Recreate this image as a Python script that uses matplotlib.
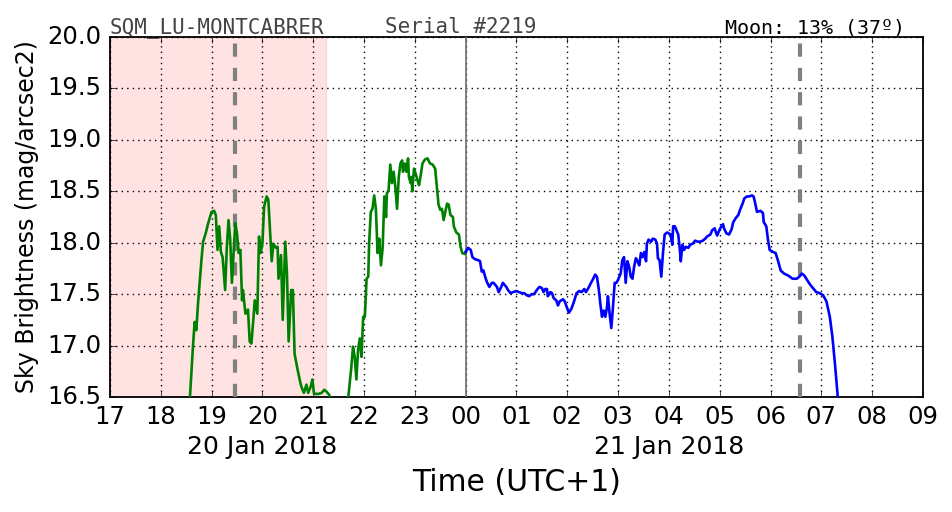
import matplotlib
matplotlib.use('Agg')
import matplotlib.pyplot as plt

# minutes after 17:00 (20 Jan 2018, UTC+1) and sky brightness in mag/arcsec2
twilight_min = [93, 98, 100, 102, 104, 108, 110, 113, 116, 120, 123, 125, 127, 129, 131,
                133, 136, 138, 140, 142, 144, 146, 148, 150, 152, 154, 156, 157, 160, 163,
                165, 167, 169, 171, 174, 176, 178, 180, 182, 185, 187, 189, 191, 193, 196,
                198, 199, 202, 204, 207, 209, 211, 214, 216, 218, 221, 224, 226, 229, 232,
                234, 237, 239, 241, 246, 250, 253, 256, 259, 263, 279,
                285, 287, 289, 291, 293, 295, 297, 299, 301, 303, 305, 306, 308, 310, 312,
                314, 316, 318, 320, 322, 324, 326, 327, 329, 331, 333, 335, 337, 339, 341,
                343, 345, 346, 348, 350, 352, 353, 355, 356, 357, 359, 361, 363, 365, 367,
                369, 372, 375, 378, 381, 384, 386, 388, 390, 392, 394, 396, 398, 400, 402,
                405, 406, 409, 412, 414, 416, 419, 420]
twilight_mag = [16.30, 16.99, 17.23, 17.15, 17.41, 17.83, 18.01, 18.09, 18.19, 18.30, 18.31,
                18.27, 17.93, 18.16, 17.91, 17.86, 17.54, 17.96, 18.22, 18.03, 17.61, 17.90,
                18.19, 18.09, 17.90, 17.93, 17.44, 17.54, 17.31, 17.35, 17.04, 17.02, 17.22,
                17.44, 17.31, 18.06, 17.90, 17.99, 18.35, 18.45, 18.42, 18.12, 17.82, 17.99,
                17.95, 17.96, 17.65, 17.88, 17.25, 18.01, 17.70, 17.04, 17.54, 17.54, 16.92,
                16.79, 16.67, 16.60, 16.54, 16.62, 16.54, 16.60, 16.67, 16.53, 16.53, 16.54,
                16.57, 16.55, 16.52, 16.30, 16.30,
                16.79, 16.99, 16.89, 16.67, 16.96, 17.07, 16.89, 17.28, 17.28, 17.65, 17.67,
                17.99, 18.30, 18.33, 18.46, 18.33, 17.90, 18.04, 17.78, 17.95, 18.45, 18.25,
                18.48, 18.51, 18.76, 18.58, 18.69, 18.54, 18.33, 18.64, 18.77, 18.80, 18.69,
                18.77, 18.69, 18.82, 18.64, 18.58, 18.64, 18.50, 18.72, 18.67, 18.61, 18.56,
                18.66, 18.77, 18.81, 18.82, 18.77, 18.76, 18.72, 18.54, 18.37, 18.32, 18.33,
                18.22, 18.30, 18.38, 18.37, 18.27, 18.25, 18.16, 18.10, 18.08, 17.96, 17.90,
                17.89, 17.91]

night_min = [420, 423, 426, 428, 431, 435, 437, 439, 441, 443, 445, 448, 451, 453, 457, 459,
             462, 464, 468, 470, 473, 476, 480, 483, 486, 489, 492, 495, 498, 501, 504, 507,
             510, 512, 514, 516, 517, 520, 522, 524, 527, 529, 531, 535, 537, 540, 542, 545,
             548, 551, 554, 557, 560, 562, 565, 568, 570, 573, 575, 577, 579, 581, 583, 585,
             587, 588, 590, 592, 594, 596, 598, 600, 603, 605, 607, 609, 611, 613, 615, 617,
             619, 621, 623, 625, 627, 629, 631, 633, 634, 636, 639, 641, 644, 646, 647, 649,
             651, 653, 655, 658, 660, 662, 664, 665, 667, 669, 671, 673, 674, 676, 678, 680,
             683, 685, 688, 691, 694, 697, 700, 703, 705, 709, 711, 714, 716, 717, 720, 722,
             724, 725, 728, 731, 734, 736, 739, 742, 744, 747, 749, 752, 755, 758, 760, 762,
             764, 768, 771, 772, 775, 777, 779, 783, 786, 789, 792, 796, 801, 806, 811, 814,
             817, 820, 823, 827, 830, 834, 838, 842, 846, 850, 853, 856, 859, 861]
night_mag = [17.91, 17.95, 17.93, 17.86, 17.84, 17.83, 17.82, 17.72, 17.73, 17.67, 17.62,
             17.57, 17.61, 17.61, 17.57, 17.52, 17.57, 17.61, 17.57, 17.54, 17.51, 17.52,
             17.53, 17.52, 17.51, 17.51, 17.49, 17.48, 17.50, 17.50, 17.54, 17.57, 17.56,
             17.52, 17.55, 17.55, 17.48, 17.52, 17.51, 17.46, 17.44, 17.39, 17.43, 17.45,
             17.43, 17.36, 17.32, 17.36, 17.43, 17.51, 17.53, 17.52, 17.55, 17.52, 17.56,
             17.61, 17.64, 17.69, 17.67, 17.56, 17.41, 17.28, 17.34, 17.28, 17.38, 17.48,
             17.31, 17.17, 17.38, 17.61, 17.61, 17.64, 17.70, 17.83, 17.86, 17.61, 17.82,
             17.77, 17.67, 17.65, 17.77, 17.85, 17.82, 17.78, 17.90, 17.86, 17.91, 17.82,
             17.99, 18.03, 18.01, 18.04, 18.03, 17.99, 17.85, 17.83, 17.67, 17.90, 18.08,
             18.10, 18.09, 18.08, 17.98, 18.16, 18.16, 18.12, 18.08, 17.93, 17.82, 17.98,
             17.93, 17.96, 17.95, 17.98, 17.99, 18.02, 18.01, 18.01, 18.02, 18.04, 18.06,
             18.08, 18.12, 18.14, 18.09, 18.07, 18.13, 18.16, 18.18, 18.14, 18.09, 18.08,
             18.13, 18.20, 18.24, 18.27, 18.32, 18.38, 18.43, 18.45, 18.45, 18.46, 18.45,
             18.38, 18.30, 18.31, 18.29, 18.20, 18.16, 18.03, 17.93, 17.91, 17.90, 17.82,
             17.73, 17.70, 17.68, 17.65, 17.65, 17.67, 17.70, 17.68, 17.64, 17.59, 17.56,
             17.52, 17.51, 17.49, 17.43, 17.28, 17.09, 16.83, 16.54, 16.30]

sun_span_min = [0, 255]        # shaded: 17:00 - 21:15
moon_marks_min = [148, 815]    # 19:28 and 06:35
midnight_min = 420

hour_ticks = list(range(17, 34))
hour_labels = ['%02d' % (h % 24) for h in hour_ticks]
date_ticks = [20, 28]
date_labels = ['20 Jan 2018', '21 Jan 2018']


def to_hours(mins):
    return [17 + m / 60.0 for m in mins]


plt.style.use('classic')
plt.rcParams['font.family'] = ['DejaVu Sans']
plt.rcParams['lines.scale_dashes'] = False

fig = plt.figure(figsize=(9.52, 5.12), dpi=100, facecolor='white')
ax = fig.add_axes([0.1155, 0.2246, 0.854, 0.7031])

ax.axvspan(*to_hours(sun_span_min), facecolor='red', edgecolor='red', alpha=0.11, lw=1)
for h in to_hours(moon_marks_min):
    ax.axvline(h, color='gray', lw=3, dashes=(9.5, 8), zorder=3)
ax.axvline(to_hours([midnight_min])[0], color='#777777', lw=1.3, zorder=3)

ax.plot(to_hours(twilight_min), twilight_mag, color='green', lw=1.9, zorder=4)
ax.plot(to_hours(night_min), night_mag, color='blue', lw=1.9, zorder=4)

ax.set_xlim(17, 33)
ax.set_ylim(16.5, 20.0)
ax.xaxis.remove_overlapping_locs = False
ax.set_xticks(hour_ticks)
ax.set_xticklabels(hour_labels)
ax.set_xticks(date_ticks, minor=True)
ax.set_xticklabels(date_labels, minor=True)
ax.set_yticks([16.5 + 0.5 * i for i in range(8)])
ax.yaxis.set_major_formatter(matplotlib.ticker.FormatStrFormatter('%.1f'))
ax.tick_params(axis='both', which='major', labelsize=17.5, pad=6)
ax.tick_params(axis='x', which='minor', labelsize=18, pad=27, length=0, top=False)
ax.grid(True, which='major', color='k', linestyle=':', lw=1)
for s in ax.spines.values():
    s.set_linewidth(1.3)

ax.set_xlabel('Time (UTC+1)', fontsize=21.5, labelpad=7)
ax.set_ylabel('Sky Brightness (mag/arcsec2)', fontsize=17, labelpad=6)

ax.text(0.0, 1.011, 'SQM_LU-MONTCABRER', transform=ax.transAxes, ha='left', va='baseline',
        family='DejaVu Sans Mono', fontsize=15, color='#444444')
ax.text(0.338, 1.011, 'Serial #2219', transform=ax.transAxes, ha='left', va='baseline',
        family='DejaVu Sans Mono', fontsize=15, color='#444444')
ax.text(0.978, 1.011, 'Moon: 13% (37º)', transform=ax.transAxes, ha='right', va='baseline',
        family='DejaVu Sans Mono', fontsize=14.4, color='black')

fig.savefig('out.png', dpi=100, facecolor='white')
